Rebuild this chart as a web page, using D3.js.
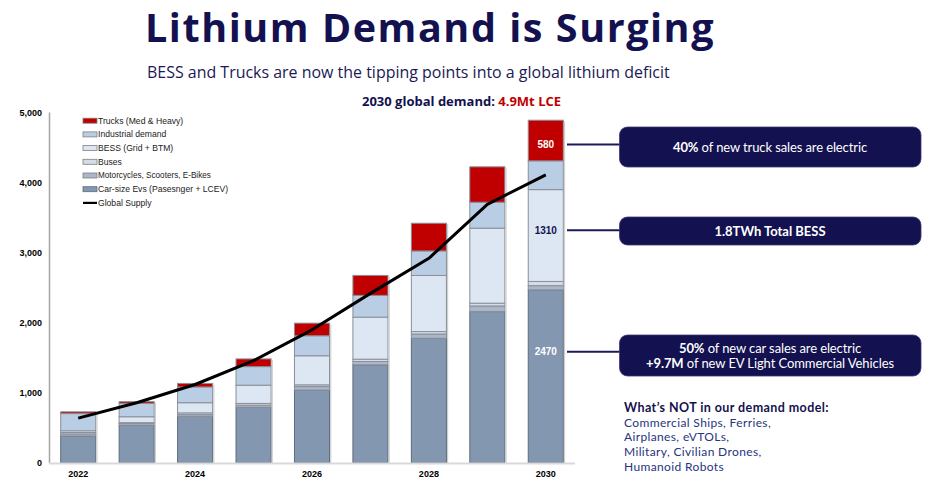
<!DOCTYPE html>
<html><head><meta charset="utf-8">
<script src="https://cdn.jsdelivr.net/npm/d3@7/dist/d3.min.js"></script>
<style>
html,body{margin:0;padding:0;background:#fff;}
svg{display:block;}
</style></head>
<body>
<svg id="chart" width="940" height="498"></svg>
<script>
const years = [2022, 2023, 2024, 2025, 2026, 2027, 2028, 2029, 2030];
const carEV       = [385, 540, 665, 795, 1040, 1400, 1780, 2160, 2470];
const motorcycles = [30, 25, 25, 30, 50, 48, 60, 80, 60];
const buses       = [20, 10, 25, 25, 25, 33, 35, 40, 60];
const bess        = [25, 85, 145, 260, 415, 600, 800, 1070, 1310];
const industrial  = [245, 190, 225, 265, 285, 310, 350, 370, 410];
const trucks      = [25, 25, 50, 110, 180, 285, 395, 505, 580];
const supply      = [640, 860, 1120, 1460, 1900, 2420, 2920, 3690, 4110];
const yTicks = [0, 1000, 2000, 3000, 4000, 5000];
const xTickYears = [2022, 2024, 2026, 2028, 2030];
const seriesKeys = ["car", "moto", "buses", "bess", "industrial", "trucks"];
const seriesNames = ["Car-size Evs (Pasesnger + LCEV)", "Motorcycles, Scooters, E-Bikes", "Buses", "BESS (Grid + BTM)", "Industrial demand", "Trucks (Med & Heavy)"];
const seriesColors = ["#8497b0", "#aab6c9", "#d5dce6", "#dde7f3", "#b9cde5", "#c00000"];
// 2030 annotations: label text, anchor value on y axis
const annoLabels = ["580", "1310", "2470"];
const annoValues = [4543, 3321, 1586];
const annoColors = ["#ffffff", "#14124f", "#ffffff"];

const navy = "#13114f";
const svg = d3.select("#chart");

const table = years.map((y, i) => ({year: y, car: carEV[i], moto: motorcycles[i], buses: buses[i], bess: bess[i], industrial: industrial[i], trucks: trucks[i]}));
const stacked = d3.stack().keys(seriesKeys)(table);

const x = d3.scaleBand().domain(years).range([49, 575]).paddingInner(0.4).paddingOuter(0.2);
const y = d3.scaleLinear().domain([0, 5000]).range([463, 112.5]);

function fit(sel, w) {
  const fs = parseFloat(sel.attr("font-size"));
  const cur = sel.node().getComputedTextLength();
  sel.attr("font-size", (fs * w / cur).toFixed(2));
}
function fitSpacing(sel, w) {
  const cur = sel.node().getComputedTextLength();
  const n = sel.text().length;
  const ls = (w - cur) / n;
  sel.attr("letter-spacing", ls.toFixed(3));
  return ls;
}

// Titles
const title = svg.append("text").attr("x", 145).attr("y", 42)
  .attr("font-family", "'Open Sans', sans-serif").attr("font-weight", 700).attr("font-size", 39.5)
  .attr("fill", navy).text("Lithium Demand is Surging");
fitSpacing(title, 570);
const sub = svg.append("text").attr("x", 147).attr("y", 77.5)
  .attr("font-family", "'Open Sans', sans-serif").attr("font-weight", 400).attr("font-size", 16)
  .attr("fill", "#1b1a55").text("BESS and Trucks are now the tipping points into a global lithium deficit");
fit(sub, 523);
const dem = svg.append("text").attr("x", 362).attr("y", 106)
  .attr("font-family", "'Open Sans', sans-serif").attr("font-weight", 700).attr("font-size", 12.5)
  .attr("fill", navy);
dem.append("tspan").text("2030 global demand: ");
dem.append("tspan").attr("fill", "#c00000").text("4.9Mt LCE");
fit(dem, 199);

// Axes
const gy = svg.append("g").attr("transform", "translate(42,0)")
  .call(d3.axisLeft(y).tickValues(yTicks).tickSize(0).tickPadding(0).tickFormat(d3.format(",")));
gy.select(".domain").remove();
gy.selectAll("text").attr("font-family", "'Liberation Sans', Arial, sans-serif").attr("font-weight", 700)
  .attr("font-size", 9).attr("fill", "#000");

svg.append("line").attr("x1", 49.5).attr("x2", 49.5).attr("y1", y(5000)).attr("y2", y(0))
  .attr("stroke", "#a6a6a6").attr("stroke-width", 1.5);

// Bars
const layer = svg.append("g");
stacked.forEach((s, si) => {
  layer.append("g").selectAll("rect").data(s).join("rect")
    .attr("x", d => x(d.data.year))
    .attr("width", x.bandwidth())
    .attr("y", d => y(d[1]))
    .attr("height", d => y(d[0]) - y(d[1]))
    .attr("fill", seriesColors[si])
    .attr("stroke", si === 0 ? "#5f6b7c" : "#8a8f98")
    .attr("stroke-width", 1);
});
layer.append("g").selectAll("line").data(stacked[stacked.length - 1]).join("line")
  .attr("x1", d => x(d.data.year) + x.bandwidth() + 1.2).attr("x2", d => x(d.data.year) + x.bandwidth() + 1.2)
  .attr("y1", d => y(d[1]) + 1).attr("y2", y(0))
  .attr("stroke", "#d0d0d0").attr("stroke-width", 1.2);

// baseline
svg.append("line").attr("x1", 49).attr("x2", 575).attr("y1", y(0) + 0.5).attr("y2", y(0) + 0.5)
  .attr("stroke", "#d9d9d9").attr("stroke-width", 2);

const gx = svg.append("g").attr("transform", `translate(0,${y(0)})`)
  .call(d3.axisBottom(x).tickValues(xTickYears).tickSize(0).tickPadding(8));
gx.select(".domain").remove();
gx.selectAll("text").attr("font-family", "'Liberation Sans', Arial, sans-serif").attr("font-weight", 700)
  .attr("font-size", 9).attr("fill", "#000");

// Supply line
const line = d3.line().x((d, i) => x(years[i]) + x.bandwidth() / 2).y(d => y(d));
svg.append("path").datum(supply).attr("d", line).attr("fill", "none")
  .attr("stroke", "#000").attr("stroke-width", 3).attr("stroke-linejoin", "round");

// Legend
const legendItems = seriesNames.map((n, i) => ({name: n, color: seriesColors[i]})).reverse();
legendItems.push({name: "Global Supply", line: true});
const lg = svg.append("g").attr("transform", "translate(83,120.7)");
legendItems.forEach((d, i) => {
  const g = lg.append("g").attr("transform", `translate(0,${i * 13.7})`);
  if (d.line) {
    g.append("line").attr("x1", 0).attr("x2", 14).attr("y1", 0).attr("y2", 0).attr("stroke", "#000").attr("stroke-width", 2.2);
  } else {
    g.append("rect").attr("x", 0).attr("y", -2.5).attr("width", 14).attr("height", 5)
      .attr("fill", d.color).attr("stroke", i === 5 ? "#5f6b7c" : "#7f7f7f").attr("stroke-width", 0.8);
  }
  const t = g.append("text").attr("x", 15).attr("y", 0).attr("dy", "0.35em")
    .attr("font-family", "'Liberation Sans', Arial, sans-serif").attr("font-size", 8.6)
    .attr("fill", "#222").text(d.name);
  if (d.name.startsWith("Motorcycles")) fit(t, 113);
});

// Annotations on 2030 bar
const last = years[years.length - 1];
const cx = x(last) + x.bandwidth() / 2;
annoLabels.forEach((t, i) => {
  svg.append("text").attr("x", cx).attr("y", y(annoValues[i])).attr("dy", "0.35em")
    .attr("text-anchor", "middle").attr("font-family", "'Liberation Sans', Arial, sans-serif")
    .attr("font-weight", 700).attr("font-size", 10).attr("fill", annoColors[i]).text(t);
  svg.append("line").attr("x1", 567).attr("x2", 620).attr("y1", y(annoValues[i])).attr("y2", y(annoValues[i]))
    .attr("stroke", "#1c1a5e").attr("stroke-width", 2);
});

// Callout boxes
const boxes = [
  {y0: 127, h: 40, lines: [[["40%", 700], [" of new truck sales are electric", 400]]], widths: [194]},
  {y0: 217, h: 28, lines: [[["1.8TWh Total BESS", 700]]], widths: [111]},
  {y0: 335, h: 41, lines: [[["50%", 700], [" of new car sales are electric", 400]], [["+9.7M", 700], [" of new EV Light Commercial Vehicles", 400]]], widths: [182, 248]}
];
boxes.forEach(b => {
  svg.append("rect").attr("x", 619.5).attr("y", b.y0).attr("width", 301.5).attr("height", b.h)
    .attr("rx", 8).attr("fill", navy).attr("stroke", "#3a3a7a").attr("stroke-width", 0.8);
  const n = b.lines.length;
  b.lines.forEach((ln, li) => {
    const cy = b.y0 + b.h / 2 + (li - (n - 1) / 2) * 15;
    const t = svg.append("text").attr("x", 770).attr("y", cy).attr("dy", "0.36em")
      .attr("text-anchor", "middle").attr("font-family", "Lato, 'Open Sans', sans-serif")
      .attr("font-size", 13).attr("fill", "#fff");
    ln.forEach(p => t.append("tspan").attr("font-weight", p[1]).text(p[0]));
    fitSpacing(t, b.widths[li]);
  });
});

// Not in model
const notTitle = svg.append("text").attr("x", 624).attr("y", 412).attr("font-family", "Lato, sans-serif")
  .attr("font-weight", 700).attr("font-size", 12.5).attr("fill", navy).text("What\u2019s NOT in our demand model:");
fitSpacing(notTitle, 205);
const notItems = ["Commercial Ships, Ferries,", "Airplanes, eVTOLs,", "Military, Civilian Drones,", "Humanoid Robots"];
let ls = null;
notItems.forEach((t, i) => {
  const e = svg.append("text").attr("x", 624).attr("y", 426.5 + i * 14.8).attr("font-family", "Lato, sans-serif")
    .attr("font-weight", 400).attr("font-size", 12).attr("fill", "#27347e").text(t);
  if (i === 0) ls = fitSpacing(e, 147);
  else e.attr("letter-spacing", ls.toFixed(3));
});
</script>
</body></html>
